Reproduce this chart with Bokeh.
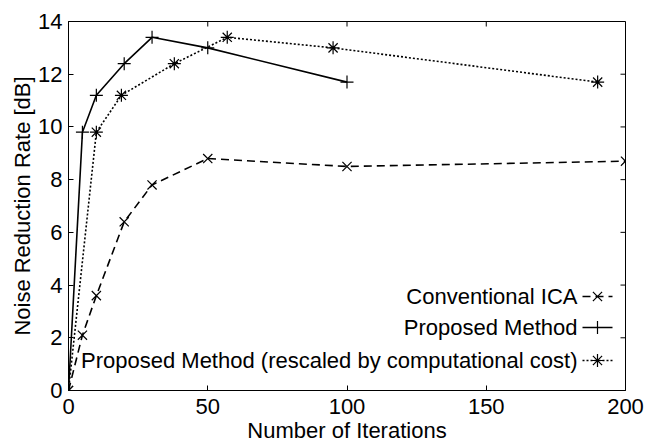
from bokeh.plotting import figure
from bokeh.models import Range1d, FixedTicker
from bokeh.embed import file_html
from bokeh.resources import INLINE
from bokeh.core.properties import value

# ---- data ----
ica_x = [0, 5, 10, 20, 30, 50, 100, 200]
ica_y = [0, 2.1, 3.6, 6.4, 7.8, 8.8, 8.5, 8.7]
prop_x = [0, 5, 10, 20, 30, 50, 100]
prop_y = [0, 9.8, 11.2, 12.4, 13.4, 13.0, 11.7]
resc_x = [0, 10, 19, 38, 57, 95, 190]
resc_y = [0, 9.8, 11.2, 12.4, 13.4, 13.0, 11.7]
x_ticks = [0, 50, 100, 150, 200]
y_ticks = [0, 2, 4, 6, 8, 10, 12, 14]
legend_labels = ["Conventional ICA", "Proposed Method",
                 "Proposed Method (rescaled by computational cost)"]
x_title = "Number of Iterations"
y_title = "Noise Reduction Rate [dB]"

FONT = "Liberation Sans"
FS = "22px"
XMAX, YMAX = 200, 14

L, R, T, B = 68, 625, 21, 390
p = figure(width=655, height=446, x_range=Range1d(0, XMAX), y_range=Range1d(0, YMAX),
           output_backend="svg", toolbar_location=None,
           min_border_left=L, min_border_right=655 - R, min_border_top=T,
           min_border_bottom=446 - B)
p.background_fill_color = "white"
p.border_fill_color = "white"
p.outline_line_color = "black"
p.outline_line_width = 1
p.xgrid.visible = False
p.ygrid.visible = False

p.extra_x_ranges = {"px": Range1d(L, R)}
p.extra_y_ranges = {"px": Range1d(B, T)}

for ax in (p.xaxis[0], p.yaxis[0]):
    ax.major_tick_in = 5
    ax.major_tick_out = 0
    ax.minor_tick_line_color = None
    ax.axis_line_color = "black"
    ax.major_tick_line_color = "black"
    ax.major_label_text_font = FONT
    ax.major_label_text_font_size = FS
    ax.major_label_text_color = "black"
    ax.axis_label_text_font = FONT
    ax.axis_label_text_font_size = FS
    ax.axis_label_text_font_style = "normal"
    ax.axis_label_text_color = "black"

p.xaxis.ticker = FixedTicker(ticks=x_ticks)
p.yaxis.ticker = FixedTicker(ticks=y_ticks)
p.xaxis.axis_label = x_title
p.yaxis.axis_label = y_title
p.xaxis.major_label_standoff = 8
p.xaxis.axis_label_standoff = 1
p.yaxis.major_label_standoff = 6
p.yaxis.axis_label_standoff = 0

# mirrored inward ticks on top and right edges of the box
dy = YMAX * 5 / (B - T)
dx = XMAX * 5 / (R - L)
p.segment(x0=x_ticks, y0=[YMAX] * len(x_ticks), x1=x_ticks, y1=[YMAX - dy] * len(x_ticks),
          line_color="black", line_width=1)
p.segment(x0=[XMAX] * len(y_ticks), y0=y_ticks, x1=[XMAX - dx] * len(y_ticks), y1=y_ticks,
          line_color="black", line_width=1)

LW = 1.6
series = [
    (ica_x, ica_y, "8 5", "x"),
    (prop_x, prop_y, "solid", "cross"),
    (resc_x, resc_y, "2 2", "asterisk"),
]
for xs, ys, dash, mk in series:
    p.line(xs, ys, line_color="black", line_width=LW, line_dash=dash)
    p.scatter(xs, ys, marker=mk, size=13, line_color="black", line_width=1.2)

# custom legend (text left, sample right), positioned in canvas pixels
rows = [296, 327, 360]
p.text(x=[577] * 3, y=rows, text=legend_labels, text_align="right",
       text_baseline="middle", text_font=value(FONT), text_font_size=FS,
       text_color="black", x_range_name="px", y_range_name="px")
for (xs, ys, dash, mk), yy in zip(series, rows):
    p.line([582, 612], [yy, yy], line_color="black", line_width=LW, line_dash=dash,
           x_range_name="px", y_range_name="px")
    p.scatter([597], [yy], marker=mk, size=13, line_color="black", line_width=1.2,
              x_range_name="px", y_range_name="px")

open("out.html", "w").write(file_html(p, INLINE))
